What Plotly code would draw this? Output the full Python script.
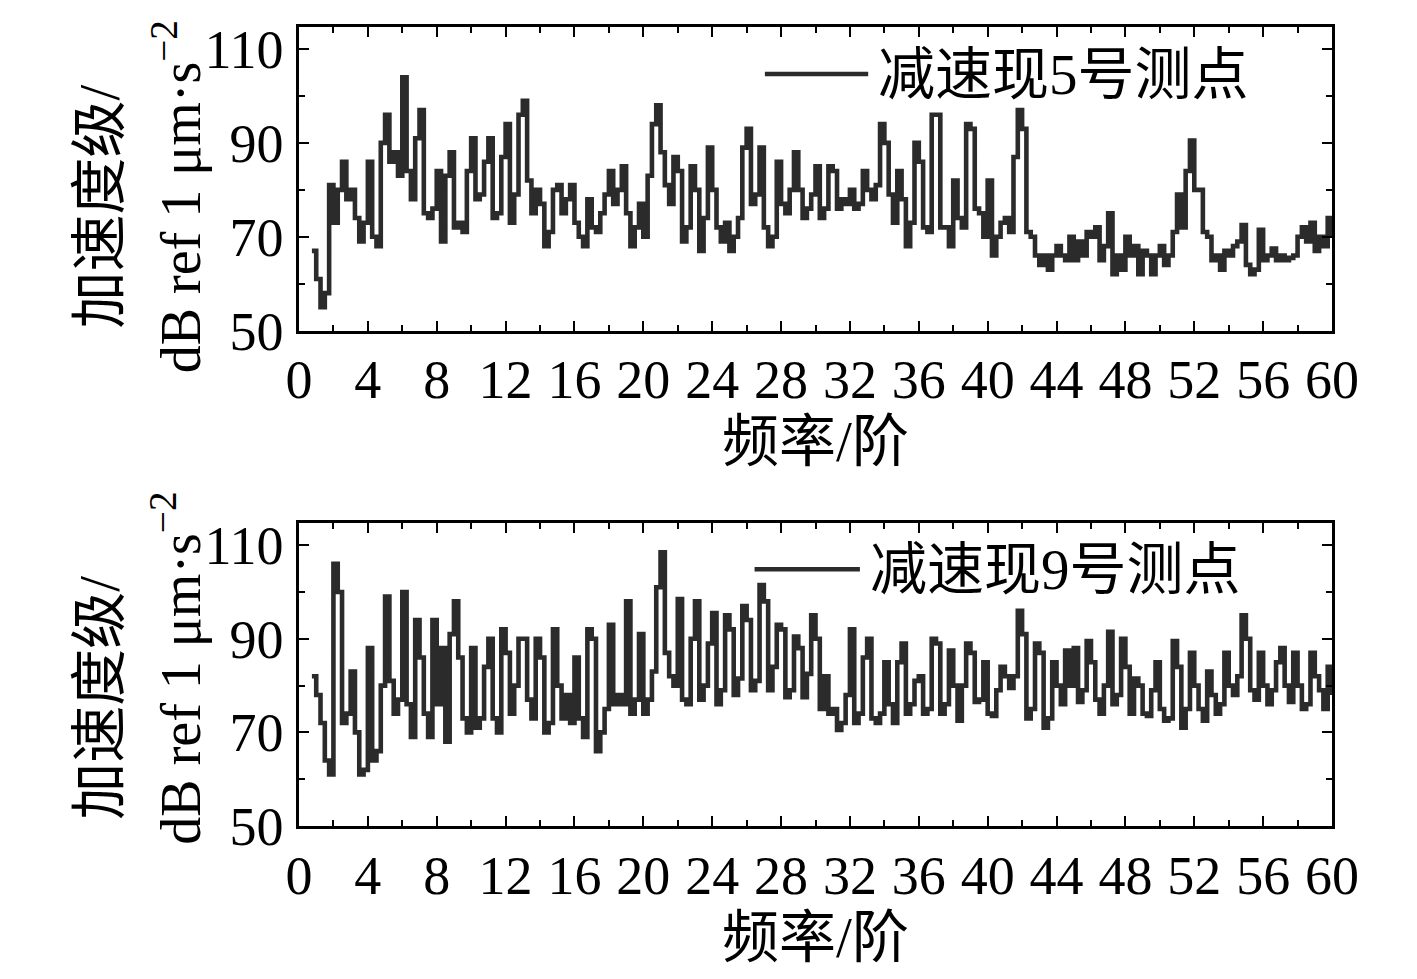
import plotly.graph_objects as go
from plotly.subplots import make_subplots

# acceleration level (dB ref 1 um/s^2), one value per 0.25 order, from order 0.75 to 60
point5_db = [
    67,
    61, 55, 58, 81,
    73, 80, 86, 78,
    80, 74, 69, 73,
    86, 70, 68, 90,
    96, 86, 88, 83,
    104, 84, 78, 91,
    97, 75, 74, 76,
    84, 69, 83, 88,
    72, 73, 71, 84,
    91, 78, 79, 86,
    91, 74, 75, 87,
    94, 73, 79, 96,
    99, 82, 75, 80,
    77, 68, 71, 80,
    81, 75, 78, 81,
    73, 70, 68, 78,
    72, 71, 75, 79,
    84, 77, 80, 85,
    75, 68, 72, 77,
    70, 83, 94, 98,
    88, 81, 77, 87,
    84, 69, 72, 85,
    80, 67, 74, 89,
    80, 72, 69, 73,
    67, 70, 74, 89,
    93, 77, 79, 89,
    72, 68, 70, 86,
    77, 75, 80, 88,
    80, 74, 76, 79,
    85, 74, 76, 85,
    84, 76, 78, 77,
    80, 76, 77, 84,
    80, 78, 81, 94,
    90, 79, 73, 84,
    78, 68, 73, 90,
    86, 72, 71, 96,
    96, 72, 72, 68,
    82, 74, 72, 94,
    93, 76, 75, 70,
    82, 66, 70, 73,
    74, 71, 87, 97,
    93, 71, 70, 66,
    64, 66, 63, 66,
    68, 66, 65, 70,
    65, 69, 66, 71,
    70, 72, 65, 68,
    75, 62, 66, 63,
    70, 66, 68, 62,
    67, 66, 62, 66,
    68, 64, 66, 71,
    79, 72, 84, 90.5,
    80, 80, 71, 70,
    65, 66, 63, 67,
    66, 68, 69, 72.5,
    64, 62, 63, 71.5,
    65, 66, 67.5, 65,
    66, 65, 65.5, 66,
    70, 72, 69, 73,
    67, 70, 68, 74,
    70,
]

point9_db = [
    82,
    78, 72, 64, 61,
    106, 100, 72, 74,
    83, 70, 61, 62,
    88, 64, 66, 80,
    99, 81, 74, 77,
    100, 76, 69, 94,
    86, 74, 69, 94,
    76, 88, 68, 91,
    98, 86, 73, 70,
    88, 71, 73, 84,
    90, 73, 70, 92,
    87, 74, 80, 90,
    90, 77, 73, 90,
    86, 70, 72, 92,
    80, 73, 78, 72,
    86, 73, 69, 92,
    90, 66, 70, 75,
    93, 76, 78, 76,
    98, 74, 77, 91,
    74, 77, 83, 101,
    108.5, 87, 82, 80,
    98.5, 77, 76, 90,
    98, 77, 80, 89,
    95.5, 76, 79, 95,
    92, 78, 81.5, 97,
    94, 79, 81, 101.5,
    98, 79, 84, 93,
    92, 77.5, 79, 90.5,
    88, 77.5, 82.5, 95,
    90, 75, 82, 74,
    75, 70.5, 72, 78,
    92, 72, 74, 86,
    90, 73, 72, 74,
    85, 76, 72, 85,
    89, 74, 76, 81,
    82, 74, 75, 90,
    89, 74, 76, 87.5,
    80, 72.5, 80, 89,
    87, 76.5, 77, 85,
    74, 73.5, 79, 84,
    82, 79.5, 82, 96,
    91, 73, 75, 89,
    87, 71, 73, 85,
    80, 76, 87.5, 80,
    88, 76.5, 79, 89.5,
    85, 77, 74, 80,
    91.5, 76, 78, 90,
    84, 74, 81.5, 80,
    74, 73.5, 79, 85,
    75, 72.5, 73, 89.5,
    84, 71, 75, 87,
    80, 75, 72.5, 83,
    78, 74, 76, 87,
    80, 78, 82, 95,
    90, 79, 77, 87,
    80, 76, 79, 85,
    88, 80, 76.5, 87,
    80, 75, 76, 87,
    82, 79, 75, 84,
    78,
]

orders = [0.75 + 0.25 * i for i in range(len(point5_db))]

series_names = ["减速现5号测点", "减速现9号测点"]
x_title = "频率/阶"
y_title_cn = "加速度级/"
y_title_unit = "dB ref 1 μm·s<sup>−2</sup>"

LINE = "#2b2b2b"
FONT = "Liberation Serif, Times New Roman, Noto Sans CJK SC, serif"

fig = make_subplots(rows=2, cols=1)

for row, values in enumerate([point5_db, point9_db], start=1):
    fig.add_trace(
        go.Scatter(
            x=orders,
            y=values,
            mode="lines",
            line=dict(color=LINE, width=4.6, shape="hv"),
            showlegend=False,
        ),
        row=row,
        col=1,
    )

axis_common = dict(
    showline=True,
    linecolor="black",
    linewidth=2.5,
    mirror="allticks",
    ticks="inside",
    ticklen=10,
    tickwidth=2,
    tickcolor="black",
    showgrid=False,
    zeroline=False,
    tickfont=dict(family=FONT, size=54, color="black"),
)

for row in (1, 2):
    fig.update_xaxes(
        range=[0, 60],
        tick0=0,
        dtick=4,
        minor=dict(dtick=2, ticks="inside", ticklen=6, tickwidth=2, tickcolor="black"),
        title=dict(text=x_title, font=dict(family=FONT, size=57, color="black"), standoff=8),
        row=row,
        col=1,
        **axis_common,
    )
    fig.update_yaxes(
        range=[50, 114.7],
        tickvals=[50, 70, 90, 110],
        minor=dict(tickvals=[60, 80, 100], ticks="inside", ticklen=6, tickwidth=2, tickcolor="black"),
        ticklabelstandoff=2,
        row=row,
        col=1,
        **axis_common,
    )

fig.update_layout(
    width=1409,
    height=971,
    margin=dict(l=291, r=85, t=15, b=153),
    paper_bgcolor="white",
    plot_bgcolor="white",
    yaxis=dict(domain=[0.620, 1.0]),
    yaxis2=dict(domain=[0.0, 0.379]),
    xaxis=dict(domain=[0, 1]),
    xaxis2=dict(domain=[0, 1]),
)

# legends drawn as a long sample line + label, like the original figure
legend_pos = [("x domain", "y domain", 0.451, 0.551, 0.845), ("x2 domain", "y2 domain", 0.441, 0.543, 0.848)]
for (xr, yr, x0, x1, yy), name in zip(legend_pos, series_names):
    fig.add_shape(type="line", xref=xr, yref=yr, x0=x0, x1=x1, y0=yy, y1=yy,
                  line=dict(color=LINE, width=4.5))
    fig.add_annotation(xref=xr, yref=yr, x=x1 + 0.008, y=yy, text=name, showarrow=False,
                       xanchor="left", yanchor="middle",
                       font=dict(family=FONT, size=57, color="black"))

# two-line rotated y titles
for y1, y2 in [(0.775, 0.787), (0.160, 0.197)]:
    fig.add_annotation(xref="paper", yref="paper", x=-0.193, y=y1, text=y_title_cn,
                       textangle=-90, showarrow=False, xanchor="center", yanchor="middle",
                       font=dict(family=FONT, size=57, color="black"))
    fig.add_annotation(xref="paper", yref="paper", x=-0.118, y=y2, text=y_title_unit,
                       textangle=-90, showarrow=False, xanchor="center", yanchor="middle",
                       font=dict(family=FONT, size=56, color="black"))

fig.write_html("out.html")
